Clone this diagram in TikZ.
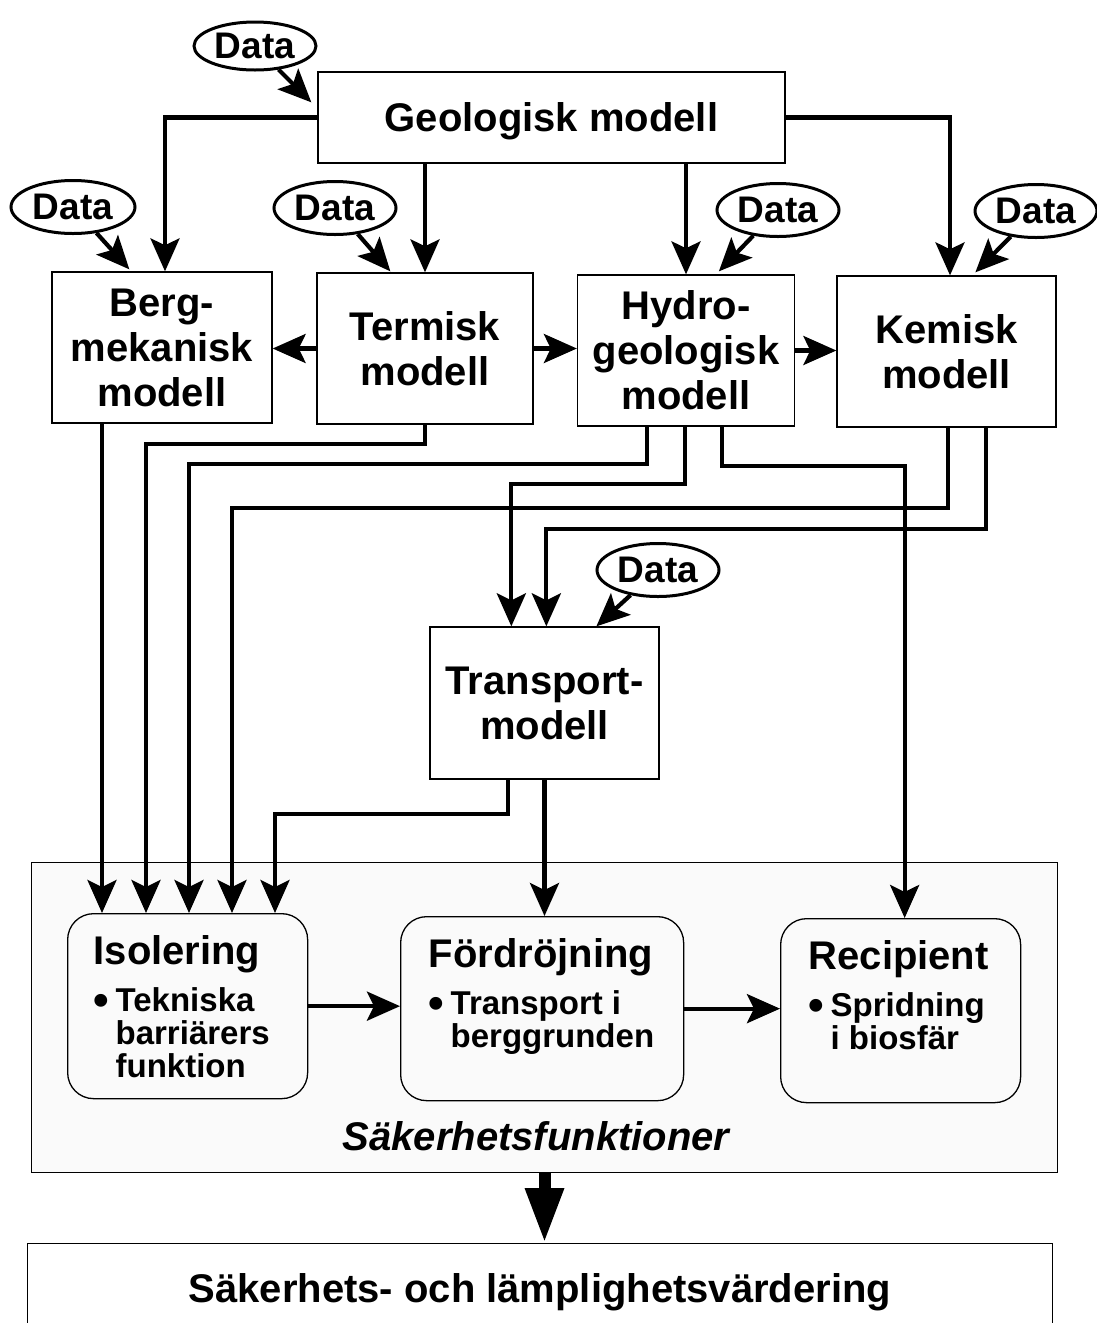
\documentclass[tikz,border=0pt]{standalone}
\usepackage{fontspec}
\setmainfont{Liberation Sans}
\usetikzlibrary{arrows.meta,shapes.geometric,calc}

\newcommand{\titlefont}{\fontsize{40}{44}\selectfont\bfseries}
\newcommand{\subfont}{\fontsize{33}{33}\selectfont\bfseries}
\newcommand{\bul}{\makebox[22pt][l]{\raisebox{-4pt}{\scalebox{1.35}{\textbullet}}}}
\newcommand{\ind}{\hspace*{22pt}}

\begin{document}
\begin{tikzpicture}[x=1pt,y=1pt,yscale=-1,xscale=1,
  mbox/.style={draw,line width=1.3pt,inner sep=0pt,align=center,font=\fontsize{40}{45}\selectfont\bfseries},
  dataell/.style={draw,ellipse,line width=3pt,inner sep=0pt,minimum width=122pt,minimum height=53pt,font=\fontsize{37}{40}\selectfont\bfseries},
  fbox/.style={draw,line width=1.3pt,rounded corners=26pt,inner sep=0pt,anchor=north west},
  arr/.style={line width=4.2pt,-{Stealth[length=33pt,width=29pt,inset=7pt]}},
  bigarr/.style={line width=12pt,-{Triangle[length=55pt,width=36pt]}}]
\useasboundingbox (0,0) rectangle (1097,1323);

%Safety functions frame
\node[draw,line width=1pt,fill=black!2,inner sep=0pt,anchor=north west,minimum width=1026pt,minimum height=310pt] (sak) at (31,862) {};
\node[anchor=base,font=\fontsize{40}{44}\selectfont\bfseries\itshape] (sakfn) at (536,1150) {Säkerhetsfunktioner};

%Models
\node[mbox,minimum width=467pt,minimum height=91pt,text depth=0pt] (geo) at (551.5,117.5) {Geologisk modell};
\node[mbox,minimum width=220pt,minimum height=151pt] (berg) at (162,347.5) {Berg-\\mekanisk\\modell};
\node[mbox,minimum width=216pt,minimum height=151pt] (termisk) at (425,348.5) {Termisk\\modell};
\node[mbox,minimum width=217pt,minimum height=151pt] (hydro) at (686,350.5) {Hydro-\\geologisk\\modell};
\node[mbox,minimum width=219pt,minimum height=151pt] (kemisk) at (946.5,351.5) {Kemisk\\modell};
\node[mbox,minimum width=229pt,minimum height=152pt] (transport) at (544.5,703) {Transport-\\modell};

%Data
\node[dataell,minimum height=48pt] (d0) at (255,46) {Data};
\node[dataell,minimum width=124pt] (d1) at (73,207) {Data};
\node[dataell] (d2) at (335,208) {Data};
\node[dataell] (d3) at (778,210) {Data};
\node[dataell] (d4) at (1036,211) {Data};
\node[dataell] (d5) at (658,570) {Data};

%Safety functions
\node[fbox,minimum width=240pt,minimum height=185pt] (iso) at (67,913)
  {\parbox[c][141pt][t]{188pt}{\raggedright\hyphenpenalty=10000 \titlefont Isolering\par\vspace{14pt}
   \subfont\bul Tekniska\\\ind barriärers\\\ind funktion}};
\node[fbox,minimum width=283pt,minimum height=184pt] (ford) at (400,916)
  {\parbox[c][140pt][t]{227pt}{\raggedright\hyphenpenalty=10000 \titlefont Fördröjning\par\vspace{14pt}
   \subfont\bul Transport i\\\ind berggrunden}};
\node[fbox,minimum width=240pt,minimum height=184pt] (rec) at (780,918)
  {\parbox[c][140pt][t]{184pt}{\raggedright\hyphenpenalty=10000 \titlefont Recipient\par\vspace{14pt}
   \subfont\bul Spridning\\\ind i biosfär}};

%Assessment
\node[draw,line width=1.3pt,inner sep=0pt,anchor=north,minimum width=1025pt,text height=59pt,text depth=45pt,font=\fontsize{40}{44}\selectfont\bfseries] (sakvard) at (540,1243) {Säkerhets- och lämplighetsvärdering};

%Inputs
\coordinate (iso1) at ($(iso.north west)+(35,0)$);
\coordinate (iso2) at ($(iso.north west)+(79,0)$);
\coordinate (iso3) at ($(iso.north west)+(122,0)$);
\coordinate (iso4) at ($(iso.north west)+(165,0)$);
\coordinate (iso5) at ($(iso.north west)+(208,0)$);
\coordinate (tr1) at ($(transport.north west)+(82,0)$);
\coordinate (tr2) at ($(transport.north west)+(117,0)$);

%Geologisk modell to the others
\draw[arr] (geo.west) -| ($(berg.north)+(3,0)$);
\draw[arr] (geo.east) -| ($(kemisk.north)+(3.5,0)$);
\draw[arr] (termisk.north |- geo.south) -- (termisk.north);
\draw[arr] (hydro.north |- geo.south) -- (hydro.north);

%Data arrows
\draw[arr] (d0) -- ($(geo.north west)+(-6,31)$);
\draw[arr] (d1) -- ($(berg.north west)+(78,-2)$);
\draw[arr] (d2) -- ($(termisk.north west)+(74,-1)$);
\draw[arr] (d3) -- ($(hydro.north west)+(142,-3)$);
\draw[arr] (d4) -- ($(kemisk.north west)+(139,-3)$);
\draw[arr] (d5) -- ($(transport.north west)+(167,0)$);

%Between models
\draw[arr] (termisk.west) -- (termisk.west -| berg.east);
\draw[arr] (termisk.east) -- (termisk.east -| hydro.west);
\draw[arr] (hydro.east) -- (hydro.east -| kemisk.west);

%Down to Isolering
\draw[arr] (iso1 |- berg.south) -- (iso1);
\draw[arr] (termisk.south) -- ++(0,19) -| (iso2);
\draw[arr] ($(hydro.south west)+(70,0)$) -- ++(0,37) -| (iso3);
\draw[arr] ($(kemisk.south)+(1.5,0)$) -- ++(0,80) -| (iso4);
\draw[arr] ($(transport.south west)+(79,0)$) -- ++(0,34) -| (iso5);

%Down to Transportmodell
\draw[arr] ($(hydro.south)+(-1,0)$) -- ++(0,57) -| (tr1);
\draw[arr] ($(kemisk.south east)+(-71,0)$) -- ++(0,101) -| (tr2);

%Down to Recipient and Fördröjning
\draw[arr] ($(hydro.south east)+(-73,0)$) -- ++(0,39) -| ($(rec.north)+(4,0)$);
\draw[arr] (transport.south) -- (transport.south |- ford.north);

%Chain of safety functions
\draw[arr] (iso.east) -- (iso.east -| ford.west);
\draw[arr] (ford.east) -- (ford.east -| rec.west);
\draw[bigarr] (sak.south) -- (sak.south |- sakvard.north);

\end{tikzpicture}
\end{document}
